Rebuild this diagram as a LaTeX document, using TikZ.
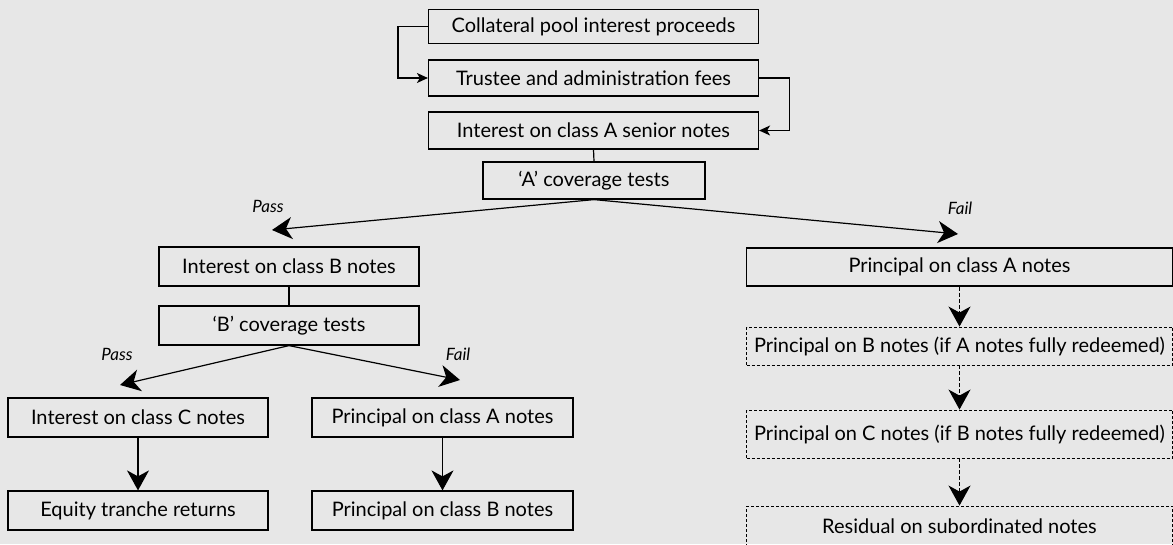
\documentclass[tikz,border=0pt]{standalone}
\usepackage{fontspec}
\setmainfont{Lato}
\usetikzlibrary{arrows.meta,calc}
\definecolor{bgc}{RGB}{231,231,231}
\tikzset{
  box/.style={draw=black, line width=1.2pt, inner sep=0pt, anchor=center, align=center,
    font=\fontsize{20}{22}\selectfont},
  dbox/.style={box, dash pattern=on 3pt off 2pt, line width=0.9pt},
  big/.style={-{Stealth[length=20pt,width=22pt,inset=6pt]}, line width=1.2pt},
  small/.style={-{Stealth[length=11pt,width=10pt,inset=3pt]}, line width=1.2pt},
  dline/.style={dash pattern=on 4pt off 2pt},
  lab/.style={font=\fontsize{17}{19}\selectfont\itshape, inner sep=0pt}
}
\begin{document}
\begin{tikzpicture}[x=1pt,y=-1pt]
\fill[bgc] (0,0) rectangle (1173,544);
\useasboundingbox (0,0) rectangle (1173,544);
\clip (0,0) rectangle (1173,544);
\node[box, minimum width=330pt, minimum height=34pt] (b1) at (593.5,26.5) {Collateral pool interest proceeds};
\node[box, minimum width=330pt, minimum height=36pt] (b2) at (593.5,78) {Trustee and administration fees};
\node[box, minimum width=330pt, minimum height=37pt] (b3) at (593.5,130.5) {Interest on class A senior notes};
\node[box, minimum width=222pt, minimum height=37pt] (b4) at (594,180.5) {`A' coverage tests};
\node[box, minimum width=260pt, minimum height=39pt] (ib) at (289,266.5) {Interest on class B notes};
\node[box, minimum width=260pt, minimum height=39pt] (bt) at (289,325.5) {`B' coverage tests};
\node[box, minimum width=260pt, minimum height=39pt] (ic) at (138,417.5) {Interest on class C notes};
\node[box, minimum width=261pt, minimum height=39pt] (pal) at (442.5,417.5) {Principal on class A notes};
\node[box, minimum width=260pt, minimum height=39pt] (eq) at (138,510.5) {Equity tranche returns};
\node[box, minimum width=261pt, minimum height=39pt] (pbl) at (442.5,510.5) {Principal on class B notes};
\node[box, minimum width=426pt, minimum height=38pt] (par) at (959.5,267) {Principal on class A notes};
\node[dbox, minimum width=426pt, minimum height=38pt] (d1) at (959.5,346) {Principal on B notes (if A notes fully redeemed)};
\node[dbox, minimum width=426pt, minimum height=48pt] (d2) at (959.5,434) {Principal on C notes (if B notes fully redeemed)};
\node[dbox, minimum width=426pt, minimum height=60pt] (d3) at (959.5,536) {};
\node[box, draw=none] (d3t) at (959.5,526) {Residual on subordinated notes};
% connectors
\draw[small] (b1.west) -- ++(-30,0) |- (b2.west);
\draw[small] (b2.east) -- ++(30,0) |- (b3.east);
\draw[line width=1.2pt] (b3.south) -- (b4.north);
\draw[line width=1.2pt] (ib.south) -- (bt.north);
\coordinate (pa) at (272,230);
\coordinate (fa) at (958,234);
\coordinate (pb) at (120,385);
\coordinate (fb) at (460,380);
\draw[big] (b4.south) -- (pa);
\draw[big] (b4.south) -- (fa);
\draw[big] (bt.south) -- (pb);
\draw[big] (bt.south) -- (fb);
\draw[big] (ic.south) -- (eq.north);
\draw[big] (pal.south) -- (pbl.north);
\draw[big, dline] (par.south) -- (d1.north);
\draw[big, dline] (d1.south) -- (d2.north);
\draw[big, dline] (d2.south) -- (d3.north);
\node[lab] (l1) at (268,206) {Pass};
\node[lab] (l2) at (960,208) {Fail};
\node[lab] (l3) at (117,354) {Pass};
\node[lab] (l4) at (458,354) {Fail};
\end{tikzpicture}
\end{document}
